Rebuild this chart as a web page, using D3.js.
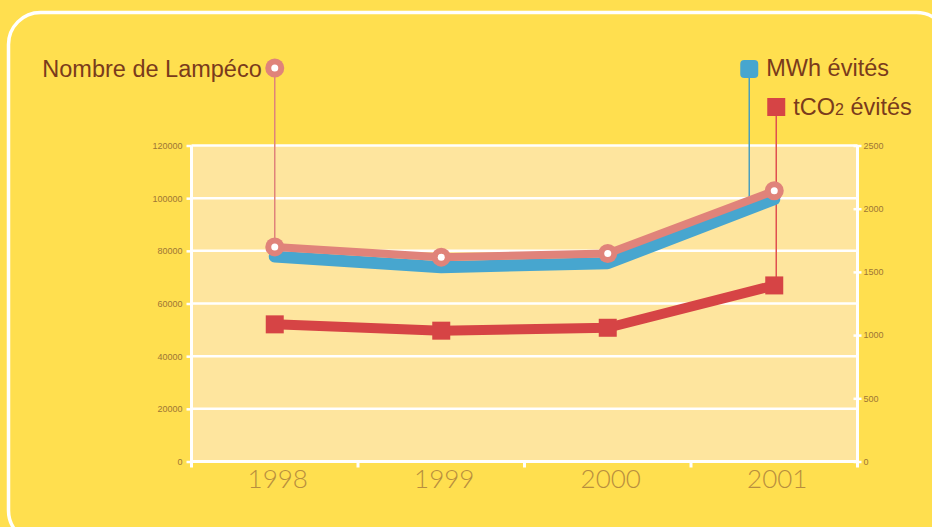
<!DOCTYPE html>
<html>
<head>
<meta charset="utf-8">
<script src="https://cdn.jsdelivr.net/npm/d3@7"></script>
<style>
  body { margin: 0; background: #FFDF4F; }
  svg { display: block; font-family: "Liberation Sans", Arial, sans-serif; }
</style>
</head>
<body>
<div id="container"></div>
<script>
const years = ["1998", "1999", "2000", "2001"];
const lampeco = [81500, 77600, 79000, 102800];
const mwhEvites = [77800, 73800, 75300, 99600];
const tco2Evites = [1085, 1035, 1058, 1393];
const leftTicks = [0, 20000, 40000, 60000, 80000, 100000, 120000];
const rightTicks = [0, 500, 1000, 1500, 2000, 2500];

const width = 932;
const height = 527;
const plot = { left: 191.5, right: 857.5, top: 145.5, bottom: 461.5 };

const yellow = "#FFDF4F";
const plotFill = "#FEE59E";
const brown = "#7A3B1C";
const tickColor = "#9E7636";
const pink = "#E0837A";
const blue = "#47A6CF";
const red = "#D64445";

const svg = d3.select("div#container")
    .append("svg")
    .attr("width", width)
    .attr("height", height);

svg.append("rect")
    .attr("width", width)
    .attr("height", height)
    .attr("fill", yellow);

// rounded frame
svg.append("rect")
    .attr("x", 8.5).attr("y", 12.5)
    .attr("width", 940).attr("height", 530)
    .attr("rx", 32)
    .attr("fill", "none")
    .attr("stroke", "#fff")
    .attr("stroke-width", 3.5);

const x = d3.scaleBand().domain(years).range([plot.left, plot.right]);
const xc = function(d) { return x(d) + x.bandwidth() / 2; };
const yL = d3.scaleLinear().domain([0, 120000]).range([plot.bottom, plot.top]);
const yR = d3.scaleLinear().domain([0, 2500]).range([plot.bottom, plot.top]);

svg.append("rect")
    .attr("x", plot.left).attr("y", plot.top)
    .attr("width", plot.right - plot.left)
    .attr("height", plot.bottom - plot.top)
    .attr("fill", plotFill);

// gridlines
svg.append("g").selectAll("line")
    .data(leftTicks)
    .enter()
    .append("line")
    .attr("x1", plot.left).attr("x2", plot.right)
    .attr("y1", function(d) { return yL(d); })
    .attr("y2", function(d) { return yL(d); })
    .attr("stroke", "#fff")
    .attr("stroke-width", 2.5);

// axes
const styleAxis = function(g) {
    g.select(".domain").remove();
    g.selectAll(".tick line").attr("stroke", "#fff").attr("stroke-width", 2.5);
    g.selectAll(".tick text")
        .attr("fill", tickColor)
        .style("font-size", "9px");
};

svg.append("g")
    .attr("transform", "translate(" + plot.left + ",0)")
    .call(d3.axisLeft(yL).tickValues(leftTicks).tickFormat(d3.format("d")).tickSize(5).tickPadding(4))
    .call(styleAxis);

svg.append("g")
    .attr("transform", "translate(" + plot.right + ",0)")
    .call(d3.axisRight(yR).tickValues(rightTicks).tickFormat(d3.format("d")).tickSize(4).tickPadding(2))
    .call(styleAxis)
    .call(function(g) { g.selectAll(".tick line").attr("x1", -4); });

const xAxis = svg.append("g")
    .attr("transform", "translate(0," + plot.bottom + ")")
    .call(d3.axisBottom(x).tickSize(0))
    .call(function(g) {
        g.select(".domain").remove();
        g.selectAll(".tick text")
            .attr("x", 3)
            .attr("y", 26).attr("dy", 0)
            .attr("fill", "#B88E3E")
            .style("font-family", "Lato, 'Liberation Sans', sans-serif")
            .style("font-size", "26px")
            .style("font-weight", 300);
    });

const bounds = years.map(function(d) { return x(d); }).concat([plot.right]);
xAxis.selectAll(".bound")
    .data(bounds)
    .enter()
    .append("line")
    .attr("class", "bound")
    .attr("x1", function(d) { return d; })
    .attr("x2", function(d) { return d; })
    .attr("y1", 0).attr("y2", 6)
    .attr("stroke", "#fff")
    .attr("stroke-width", 3);

// axis lines
[[plot.left, plot.top, plot.left, plot.bottom + 4],
 [plot.right, plot.top, plot.right, plot.bottom + 4],
 [plot.left, plot.bottom, plot.right, plot.bottom]].forEach(function(l) {
    svg.append("line")
        .attr("x1", l[0]).attr("y1", l[1])
        .attr("x2", l[2]).attr("y2", l[3])
        .attr("stroke", "#fff")
        .attr("stroke-width", 3);
});

// legend + leader lines
const legend = svg.append("g");

const lampX = xc(years[0]);
legend.append("line")
    .attr("x1", lampX).attr("x2", lampX)
    .attr("y1", 68).attr("y2", yL(lampeco[0]))
    .attr("stroke", pink).attr("stroke-width", 1.5);

const blueX = xc(years[3]) - 25;
const t = (blueX - xc(years[2])) / (xc(years[3]) - xc(years[2]));
const blueY = yL(mwhEvites[2] + t * (mwhEvites[3] - mwhEvites[2]));
legend.append("line")
    .attr("x1", blueX).attr("x2", blueX)
    .attr("y1", 69).attr("y2", blueY)
    .attr("stroke", "#4A9FBE").attr("stroke-width", 1.5);

// series lines
const line = function(vals, scale) {
    return d3.line()
        .x(function(d, i) { return xc(years[i]); })
        .y(function(d) { return scale(d); })(vals);
};

svg.append("path")
    .attr("d", line(mwhEvites, yL))
    .attr("fill", "none").attr("stroke", blue)
    .attr("stroke-width", 12)
    .attr("stroke-linejoin", "round").attr("stroke-linecap", "round");

svg.append("path")
    .attr("d", line(lampeco, yL))
    .attr("fill", "none").attr("stroke", pink)
    .attr("stroke-width", 8)
    .attr("stroke-linejoin", "round");

svg.append("path")
    .attr("d", line(tco2Evites, yR))
    .attr("fill", "none").attr("stroke", red)
    .attr("stroke-width", 10)
    .attr("stroke-linejoin", "round");

const redX = xc(years[3]) + 2;
legend.append("line")
    .attr("x1", redX).attr("x2", redX)
    .attr("y1", 107).attr("y2", yR(tco2Evites[3]))
    .attr("stroke", "#E0504F").attr("stroke-width", 1.5);

// points
const lampPts = svg.append("g").selectAll("g")
    .data(lampeco)
    .enter()
    .append("g")
    .attr("transform", function(d, i) { return "translate(" + xc(years[i]) + "," + yL(d) + ")"; });
lampPts.append("circle").attr("r", 9.5).attr("fill", pink);
lampPts.append("circle").attr("r", 3.5).attr("fill", "#fff");

svg.append("g").selectAll("rect")
    .data(tco2Evites)
    .enter()
    .append("rect")
    .attr("x", function(d, i) { return xc(years[i]) - 9; })
    .attr("y", function(d) { return yR(d) - 9; })
    .attr("width", 18).attr("height", 18)
    .attr("fill", red);

// legend markers and labels
legend.append("circle").attr("cx", lampX).attr("cy", 68).attr("r", 9.5).attr("fill", pink);
legend.append("circle").attr("cx", lampX).attr("cy", 68).attr("r", 3.5).attr("fill", "#fff");
legend.append("text")
    .attr("x", lampX - 13).attr("y", 77)
    .attr("text-anchor", "end")
    .attr("fill", brown)
    .style("font-size", "23.5px")
    .text("Nombre de Lampéco");

legend.append("rect")
    .attr("x", blueX - 9).attr("y", 60)
    .attr("width", 18).attr("height", 18).attr("rx", 4)
    .attr("fill", blue);
legend.append("text")
    .attr("x", blueX + 17).attr("y", 76)
    .attr("fill", brown)
    .style("font-size", "23.5px")
    .text("MWh évités");

legend.append("rect")
    .attr("x", redX - 9).attr("y", 98)
    .attr("width", 18).attr("height", 18)
    .attr("fill", red);
const tco = legend.append("text")
    .attr("x", redX + 17).attr("y", 115)
    .attr("fill", brown)
    .style("font-size", "23.5px");
tco.append("tspan").text("tCO");
tco.append("tspan").style("font-size", "16px").text("2");
tco.append("tspan").text(" évités");
</script>
</body>
</html>
